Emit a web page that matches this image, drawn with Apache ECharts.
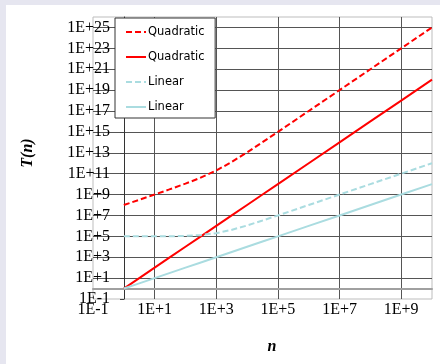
<!DOCTYPE html>
<html>
<head>
<meta charset="utf-8">
<script src="https://cdn.jsdelivr.net/npm/echarts@6/dist/echarts.min.js"></script>
<style>
html,body{margin:0;padding:0;background:#fff;}
#chart{width:440px;height:364px;}
</style>
</head>
<body>
<div id="chart"></div>
<script>
// n values (x axis, log scale)
var nValues = [1, 3, 10, 30, 100, 300, 1e3, 3e3, 1e4, 3e4, 1e5, 1e6, 1e7, 1e8, 1e9, 1e10];
// T(n) values
var quadraticDashed = [1e8, 3e8, 1e9, 3.1e9, 1.1e10, 3.9e10, 2e11, 1.2e12, 1.1e13, 9.3e13, 1e15, 1e17, 1e19, 1e21, 1e23, 1e25];
var quadraticSolid  = [1, 9, 100, 900, 1e4, 9e4, 1e6, 9e6, 1e8, 9e8, 1e10, 1e12, 1e14, 1e16, 1e18, 1e20];
var linearDashed    = [1e5, 1e5, 1e5, 1e5, 1.1e5, 1.3e5, 2e5, 4e5, 1.1e6, 3.1e6, 1e7, 1e8, 1e9, 1e10, 1e11, 1e12];
var linearSolid     = [1, 3, 10, 30, 100, 300, 1e3, 3e3, 1e4, 3e4, 1e5, 1e6, 1e7, 1e8, 1e9, 1e10];
var seriesNames = ['Quadratic', 'Quadratic ', 'Linear', 'Linear '];
var xTitle = 'n';
var yTitle = 'T(n)';

function pairs(ys){ return nValues.map(function(n,i){ return [n, ys[i]]; }); }
function fmt(v){
  var e = Math.round(Math.log10(v));
  return '1E' + (e < 0 ? '-' : '+') + Math.abs(e);
}

var red = '#ff0000', blue = '#aadce0';
var chart = echarts.init(document.getElementById('chart'), null, {renderer:'canvas'});
chart.setOption({
  backgroundColor: '#ffffff',
  animation: false,
  grid: {left: 93, right: 8, top: 17, bottom: 65, show: true, borderColor: '#bdbdbd', borderWidth: 1, backgroundColor: 'transparent'},
  legend: {
    data: seriesNames,
    orient: 'vertical',
    left: 115, top: 18,
    padding: [8, 7, 5, 10],
    itemGap: 13,
    itemWidth: 20, itemHeight: 14,
    itemStyle: {opacity: 0},
    backgroundColor: '#ffffff',
    borderColor: '#333333', borderWidth: 1,
    textStyle: {fontFamily: 'DejaVu Sans', fontSize: 11.5, color: '#000', padding: [0,0,0,-3]}
  },
  xAxis: {
    type: 'log', logBase: 10, min: 0.1, max: 1e10, interval: 2,
    offset: -10,
    axisLine: {show: true, lineStyle: {color: '#a0a0a0', width: 2}},
    axisTick: {show: false},
    axisLabel: {formatter: fmt, fontFamily: 'Liberation Serif', fontSize: 16, color: '#000', margin: 13, showMaxLabel: false},
    splitLine: {show: true, showMinLine: false, showMaxLine: false, lineStyle: {color: '#555', width: 1}},
    minorTick: {show: false}
  },
  yAxis: {
    type: 'log', logBase: 10, min: 0.1, max: 1e26, interval: 2,
    offset: -31,
    axisLine: {show: true, lineStyle: {color: '#333', width: 1}},
    axisTick: {show: true, length: 4, lineStyle: {color: '#444'}},
    axisLabel: {formatter: fmt, fontFamily: 'Liberation Serif', fontSize: 16, color: '#000', margin: 14, showMaxLabel: false},
    splitLine: {show: true, showMinLine: false, showMaxLine: false, lineStyle: {color: '#555', width: 1}}
  },
  graphic: [
    {type: 'rect', shape: {x: 0, y: 0, width: 6, height: 364}, style: {fill: '#e6e6f0'}, silent: true},
    {type: 'rect', shape: {x: 0, y: 0, width: 440, height: 5}, style: {fill: '#e6e6f0'}, silent: true},
    {type: 'text', x: 28, y: 153, rotation: Math.PI/2, style: {text: yTitle, font: 'italic bold 16px "Liberation Serif"', fill: '#000', textAlign: 'center', textVerticalAlign: 'middle'}},
    {type: 'text', x: 272, y: 347, style: {text: xTitle, font: 'italic bold 16px "Liberation Serif"', fill: '#000', textAlign: 'center', textVerticalAlign: 'middle'}}
  ],
  series: [
    {name: seriesNames[0], type: 'line', data: pairs(quadraticDashed), symbol: 'none', smooth: false, lineStyle: {color: red, width: 2, type: [6, 3]}, itemStyle: {color: red}},
    {name: seriesNames[1], type: 'line', data: pairs(quadraticSolid), symbol: 'none', lineStyle: {color: red, width: 2}, itemStyle: {color: red}},
    {name: seriesNames[2], type: 'line', data: pairs(linearDashed), symbol: 'none', lineStyle: {color: blue, width: 2, type: [6, 3]}, itemStyle: {color: blue}},
    {name: seriesNames[3], type: 'line', data: pairs(linearSolid), symbol: 'none', lineStyle: {color: blue, width: 2}, itemStyle: {color: blue}}
  ]
});
</script>
</body>
</html>
